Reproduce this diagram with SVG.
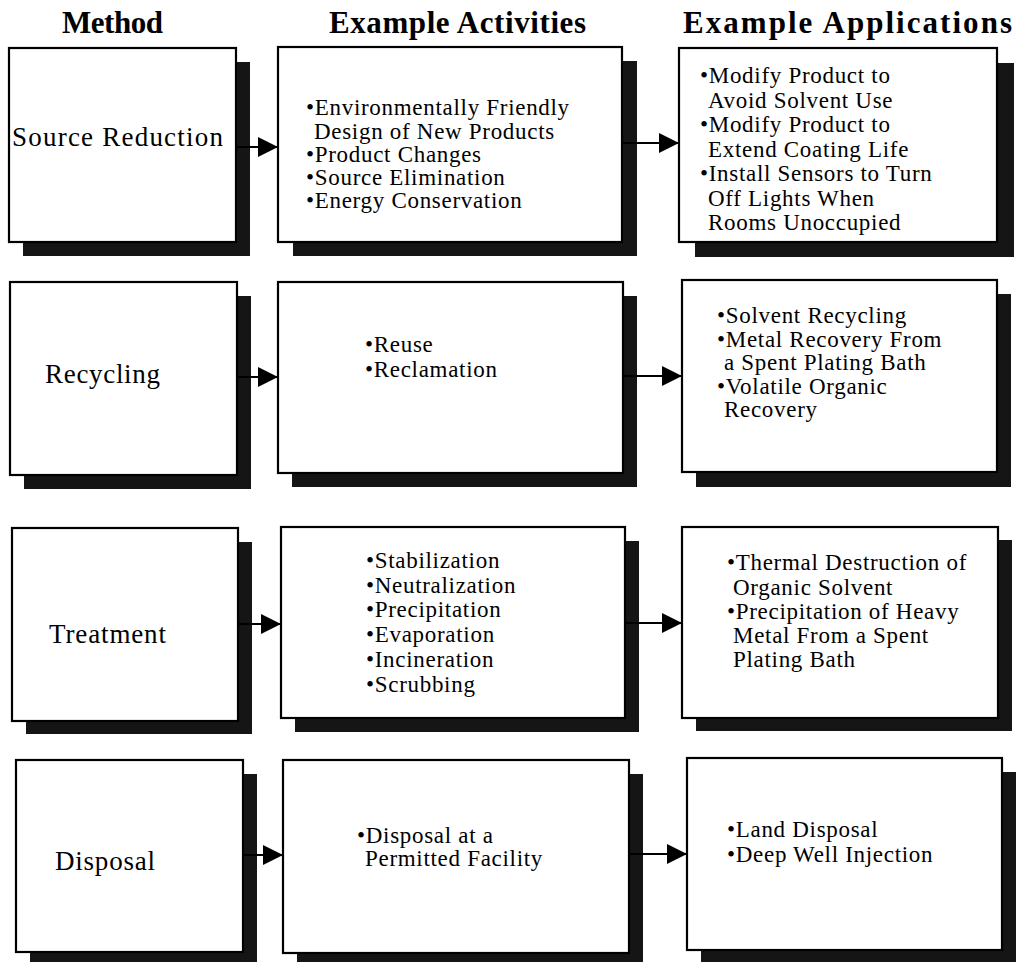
<svg xmlns="http://www.w3.org/2000/svg" width="1016" height="962" viewBox="0 0 1016 962">
<style>
.bg{fill:#ffffff}
.shadow{fill:#151515}
.box{fill:#ffffff;stroke:#000000;stroke-width:2.2}
.hdr{font-family:"Liberation Serif",serif;font-weight:bold;font-size:31px;fill:#000}
.meth{font-family:"Liberation Serif",serif;font-size:27px;fill:#000}
.txt{font-family:"Liberation Serif",serif;font-size:23px;letter-spacing:0.7px;fill:#000}
.conn{stroke:#000;stroke-width:2.2;fill:none;marker-end:url(#ah)}
</style>
<defs>
<marker id="ah" viewBox="0 0 20 20" markerWidth="20" markerHeight="20" refX="20" refY="10" markerUnits="userSpaceOnUse" orient="auto">
<path d="M0,0 L20,10 L0,20 Z" fill="#000"/>
</marker>
</defs>
<rect class="bg" x="0" y="0" width="1016" height="962"/>

<g id="headers">
<text class="hdr" x="62" y="33" textLength="101" lengthAdjust="spacing">Method</text>
<text class="hdr" x="329" y="33" textLength="257" lengthAdjust="spacing">Example Activities</text>
<text class="hdr" x="683" y="33" textLength="329" lengthAdjust="spacing">Example Applications</text>
</g>

<g id="source-reduction">
<rect class="shadow" x="23" y="62" width="227" height="194"/>
<rect class="box" x="9" y="48" width="227" height="194"/>
<text class="meth" x="12" y="146" textLength="211" lengthAdjust="spacing">Source Reduction</text>
</g>
<g id="sr-activities">
<rect class="shadow" x="293" y="61" width="344" height="195"/>
<rect class="box" x="278" y="47" width="344" height="195"/>
<text class="txt" x="306" y="115">•Environmentally Friendly</text>
<text class="txt" x="314" y="138.5">Design of New Products</text>
<text class="txt" x="306" y="162">•Product Changes</text>
<text class="txt" x="306" y="185">•Source Elimination</text>
<text class="txt" x="306" y="208">•Energy Conservation</text>
</g>
<g id="sr-applications">
<rect class="shadow" x="695" y="63" width="319" height="194"/>
<rect class="box" x="679" y="48" width="318" height="194"/>
<text class="txt" x="700" y="83">•Modify Product to</text>
<text class="txt" x="708" y="107.5">Avoid  Solvent Use</text>
<text class="txt" x="700" y="132">•Modify Product to</text>
<text class="txt" x="708" y="156.5">Extend Coating Life</text>
<text class="txt" x="700" y="181">•Install Sensors to Turn</text>
<text class="txt" x="708" y="205.5">Off Lights When</text>
<text class="txt" x="708" y="230">Rooms Unoccupied</text>
</g>

<g id="recycling">
<rect class="shadow" x="24" y="296" width="227" height="193"/>
<rect class="box" x="10" y="282" width="227" height="193"/>
<text class="meth" x="45" y="383" textLength="115" lengthAdjust="spacing">Recycling</text>
</g>
<g id="rc-activities">
<rect class="shadow" x="292" y="296" width="345" height="191"/>
<rect class="box" x="278" y="282" width="345" height="191"/>
<text class="txt" x="365" y="352">•Reuse</text>
<text class="txt" x="365" y="377">•Reclamation</text>
</g>
<g id="rc-applications">
<rect class="shadow" x="696" y="294" width="315" height="193"/>
<rect class="box" x="682" y="280" width="315" height="192"/>
<text class="txt" x="717" y="323">•Solvent Recycling</text>
<text class="txt" x="717" y="347">•Metal Recovery From</text>
<text class="txt" x="724" y="370">a Spent Plating Bath</text>
<text class="txt" x="717" y="394">•Volatile Organic</text>
<text class="txt" x="724" y="417">Recovery</text>
</g>

<g id="treatment">
<rect class="shadow" x="26" y="542" width="226" height="192"/>
<rect class="box" x="12" y="528" width="226" height="193"/>
<text class="meth" x="49" y="643" textLength="117" lengthAdjust="spacing">Treatment</text>
</g>
<g id="tr-activities">
<rect class="shadow" x="295" y="541" width="344" height="191"/>
<rect class="box" x="281" y="527" width="344" height="191"/>
<text class="txt" x="366" y="568">•Stabilization</text>
<text class="txt" x="366" y="593">•Neutralization</text>
<text class="txt" x="366" y="617">•Precipitation</text>
<text class="txt" x="366" y="642">•Evaporation</text>
<text class="txt" x="366" y="667">•Incineration</text>
<text class="txt" x="366" y="692">•Scrubbing</text>
</g>
<g id="tr-applications">
<rect class="shadow" x="696" y="540" width="316" height="191"/>
<rect class="box" x="682" y="527" width="316" height="191"/>
<text class="txt" x="727" y="570">•Thermal Destruction of</text>
<text class="txt" x="733" y="595">Organic Solvent</text>
<text class="txt" x="727" y="619">•Precipitation of Heavy</text>
<text class="txt" x="733" y="643">Metal From a Spent</text>
<text class="txt" x="733" y="667">Plating Bath</text>
</g>

<g id="disposal">
<rect class="shadow" x="30" y="774" width="227" height="192"/>
<rect class="box" x="16" y="760" width="227" height="192"/>
<text class="meth" x="55" y="870" textLength="100" lengthAdjust="spacing">Disposal</text>
</g>
<g id="dp-activities">
<rect class="shadow" x="297" y="774" width="346" height="192"/>
<rect class="box" x="283" y="760" width="346" height="193"/>
<text class="txt" x="357" y="843">•Disposal at a</text>
<text class="txt" x="365" y="866">Permitted Facility</text>
</g>
<g id="dp-applications">
<rect class="shadow" x="701" y="772" width="315" height="192"/>
<rect class="box" x="687" y="758" width="315" height="192"/>
<text class="txt" x="727" y="837">•Land Disposal</text>
<text class="txt" x="727" y="862">•Deep Well Injection</text>
</g>

<g id="connectors">
<line class="conn" x1="236" y1="147" x2="278" y2="147"/>
<line class="conn" x1="622" y1="143" x2="679" y2="143"/>
<line class="conn" x1="237" y1="377" x2="278" y2="377"/>
<line class="conn" x1="623" y1="376" x2="682" y2="376"/>
<line class="conn" x1="238" y1="624" x2="281" y2="624"/>
<line class="conn" x1="625" y1="623" x2="682" y2="623"/>
<line class="conn" x1="243" y1="855" x2="283" y2="855"/>
<line class="conn" x1="629" y1="854" x2="687" y2="854"/>
</g>
</svg>
